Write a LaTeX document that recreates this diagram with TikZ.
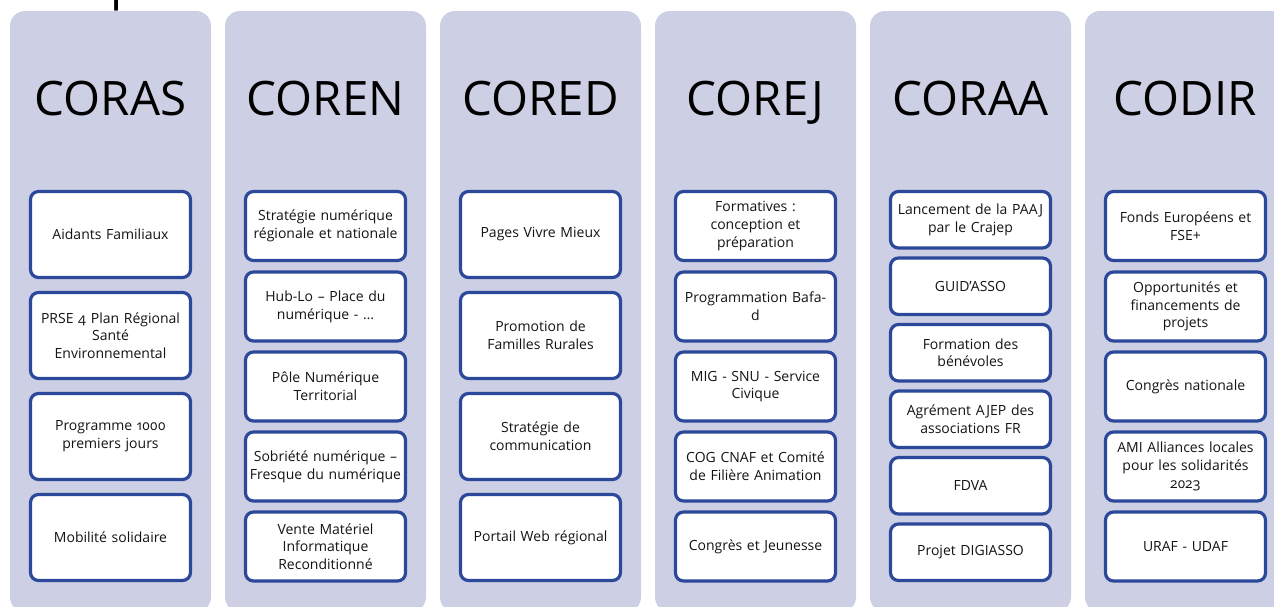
\documentclass[tikz,border=0pt]{standalone}
\usepackage{fontspec}
\setmainfont{Open Sans}[Numbers=OldStyle]
\definecolor{colbg}{RGB}{205,208,228}
\definecolor{boxblue}{RGB}{44,72,155}
\definecolor{txt}{RGB}{20,20,20}
\begin{document}
\begin{tikzpicture}[x=1pt,y=-1pt,
  column/.style={fill=colbg, rounded corners=15pt, minimum width=201pt, minimum height=601pt, inner sep=0pt},
  title/.style={font=\fontsize{47.5}{50}\selectfont, anchor=base, inner sep=0pt, text=black},
  item/.style={draw=boxblue, line width=3.2pt, fill=white, rounded corners=8pt, text width=156pt, inner xsep=2pt, inner ysep=0pt, align=center, text=txt, font=\fontsize{14}{17.8}\selectfont},
  itemA/.style={item, minimum height=86pt},
  itemB/.style={item, minimum height=69pt},
  itemC/.style={item, minimum height=56.5pt}]
\useasboundingbox (0,0) rectangle (1274,606);
% partial glyph at the top
\node[anchor=base west, inner sep=0pt, font=\fontsize{48}{48}\selectfont] (frag) at (110.5,-0.8) {p};
% columns
\node[column] (c1) at (110.5,311.5) {};
\node[column] (c2) at (325.5,311.5) {};
\node[column] (c3) at (540.5,311.5) {};
\node[column] (c4) at (755.5,311.5) {};
\node[column] (c5) at (970.5,311.5) {};
\node[column] (c6) at (1185.5,311.5) {};
% titles
\node[title] (t1) at (110.5,115) {CORAS};
\node[title] (t2) at (325.5,115) {COREN};
\node[title] (t3) at (540.5,115) {CORED};
\node[title] (t4) at (755.5,115) {COREJ};
\node[title] (t5) at (970.5,115) {CORAA};
\node[title] (t6) at (1185.5,115) {CODIR};
% CORAS
\node[itemA] (a1) at (110.5,234.5) {Aidants Familiaux};
\node[itemA] (a2) at (110.5,335.5) {PRSE 4 Plan Régional\\Santé\\Environnemental};
\node[itemA] (a3) at (110.5,436.5) {Programme 1000\\premiers jours};
\node[itemA] (a4) at (110.5,537.5) {Mobilité solidaire};
% COREN
\node[itemB] (b1) at (325.5,226) {Stratégie numérique\\régionale et nationale};
\node[itemB] (b2) at (325.5,306.5) {Hub-Lo -- Place du\\numérique - …};
\node[itemB] (b3) at (325.5,386.5) {Pôle Numérique\\Territorial};
\node[itemB] (b4) at (325.5,466.5) {Sobriété numérique --\\Fresque du numérique};
\node[itemB] (b5) at (325.5,546.5) {Vente Matériel\\Informatique\\Reconditionné};
% CORED
\node[itemA] (d1) at (540.5,234.5) {Pages Vivre Mieux};
\node[itemA] (d2) at (540.5,335.5) {Promotion de\\Familles Rurales};
\node[itemA] (d3) at (540.5,436.5) {Stratégie de\\communication};
\node[itemA] (d4) at (540.5,537.5) {Portail Web régional};
% COREJ
\node[itemB] (j1) at (755.5,226) {Formatives :\\conception et\\préparation};
\node[itemB] (j2) at (755.5,306.5) {Programmation Bafa-\\d};
\node[itemB] (j3) at (755.5,386.5) {MIG - SNU - Service\\Civique};
\node[itemB] (j4) at (755.5,466.5) {COG CNAF et Comité\\de Filière Animation};
\node[itemB] (j5) at (755.5,546.5) {Congrès et Jeunesse};
% CORAA
\node[itemC] (e1) at (970.5,219.75) {Lancement de la PAAJ\\par le Crajep};
\node[itemC] (e2) at (970.5,286.25) {GUID'ASSO};
\node[itemC] (e3) at (970.5,352.75) {Formation des\\bénévoles};
\node[itemC] (e4) at (970.5,419.25) {Agrément AJEP des\\associations FR};
\node[itemC] (e5) at (970.5,485.75) {FDVA};
\node[itemC] (e6) at (970.5,552.25) {Projet DIGIASSO};
% CODIR
\node[itemB] (f1) at (1185.5,226) {Fonds Européens et\\FSE+};
\node[itemB] (f2) at (1185.5,306.5) {Opportunités et\\financements de\\projets};
\node[itemB] (f3) at (1185.5,386.5) {Congrès nationale};
\node[itemB] (f4) at (1185.5,466.5) {AMI Alliances locales\\pour les solidarités\\2023};
\node[itemB] (f5) at (1185.5,546.5) {URAF - UDAF};
\end{tikzpicture}
\end{document}
